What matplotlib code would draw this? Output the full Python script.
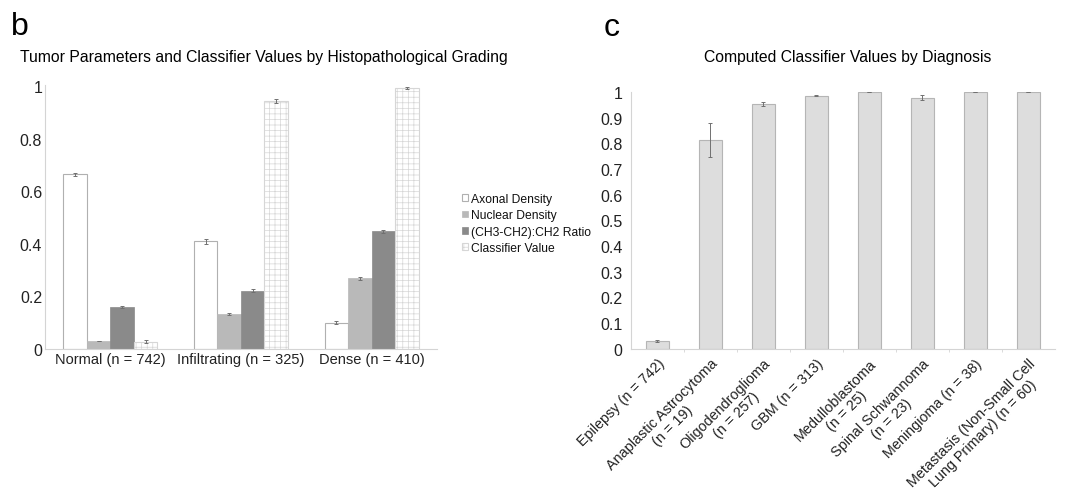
import numpy as np
import matplotlib
matplotlib.use("Agg")
import matplotlib.pyplot as plt

plt.rcParams['font.family'] = ['Liberation Sans', 'DejaVu Sans']
plt.rcParams['hatch.linewidth'] = 0.5

# panel b data
grades = ['Normal (n = 742)', 'Infiltrating (n = 325)', 'Dense (n = 410)']
series_names = ['Axonal Density', 'Nuclear Density', '(CH3-CH2):CH2 Ratio', 'Classifier Value']
axonal = [0.665, 0.41, 0.10]
axonal_err = [0.006, 0.010, 0.006]
nuclear = [0.030, 0.133, 0.268]
nuclear_err = [0.001, 0.003, 0.007]
ratio = [0.160, 0.222, 0.448]
ratio_err = [0.003, 0.005, 0.006]
classifier = [0.028, 0.945, 0.993]
classifier_err = [0.004, 0.008, 0.002]

# panel c data
diagnoses = ['Epilepsy (n = 742)', 'Anaplastic Astrocytoma\n(n = 19)',
             'Oligodendroglioma\n(n = 257)', 'GBM (n = 313)',
             'Medulloblastoma\n(n = 25)', 'Spinal Schwannoma\n(n = 23)',
             'Meningioma (n = 38)', 'Metastasis (Non-Small Cell\nLung Primary) (n = 60)']
diag_vals = [0.030, 0.812, 0.952, 0.985, 0.999, 0.978, 0.999, 0.999]
diag_err = [0.003, 0.065, 0.008, 0.003, 0.001, 0.010, 0.001, 0.001]

fig = plt.figure(figsize=(10.84, 5.02), dpi=100)
spine_col = '#d4d4d4'
err_kw = dict(ecolor='#707070', elinewidth=0.7, capsize=1.5, capthick=0.7)

# ---- panel b
ax1 = fig.add_axes([0.0415, 0.303, 0.3615, 0.526])
x = np.arange(len(grades))
w = 0.18
styles = [
    dict(color='white', edgecolor='#b0b0b0', linewidth=0.8),
    dict(color='#b9b9b9', edgecolor='#b9b9b9', linewidth=0.5),
    dict(color='#8a8a8a', edgecolor='#8a8a8a', linewidth=0.5),
    dict(facecolor='white', edgecolor='#d6d6d6', linewidth=0.8, hatch='+++'),
]
vals = [axonal, nuclear, ratio, classifier]
errs = [axonal_err, nuclear_err, ratio_err, classifier_err]
handles = []
for i in range(4):
    b = ax1.bar(x + (i - 1.5) * w, vals[i], w, yerr=errs[i], error_kw=err_kw,
                label=series_names[i], **styles[i])
    handles.append(b)
ax1.set_xlim(-0.5, 2.5)
ax1.set_ylim(0, 1.005)
ax1.set_yticks(np.arange(0, 1.01, 0.2))
ax1.set_yticklabels(['0', '0.2', '0.4', '0.6', '0.8', '1'])
ax1.set_xticks(x)
ax1.set_xticklabels(grades, fontsize=10.5)
ax1.tick_params(axis='x', length=0, colors='#222222', pad=2)
ax1.tick_params(axis='y', length=0, labelsize=11.5, colors='#222222', pad=2)
for s in ['top', 'right']:
    ax1.spines[s].set_visible(False)
for s in ['left', 'bottom']:
    ax1.spines[s].set_color(spine_col)
fig.text(0.018, 0.977, 'b', fontsize=23, va='top', ha='center')
fig.text(0.018, 0.886, 'Tumor Parameters and Classifier Values by Histopathological Grading',
         fontsize=11.3, va='center', ha='left')

leg = fig.legend(handles=handles, loc='center left', bbox_to_anchor=(0.421, 0.553),
                 frameon=False, handlelength=0.5, handleheight=0.5, handletextpad=0.2,
                 labelspacing=0.35, borderpad=0,
                 prop=dict(family='Liberation Sans', size=8.7))
for t in leg.get_texts():
    t.set_color('#111111')

# ---- panel c
ax2 = fig.add_axes([0.582, 0.303, 0.391, 0.512])
xc = np.arange(len(diagnoses))
ax2.bar(xc, diag_vals, 0.43, yerr=diag_err, color='#dddddd', edgecolor='#b5b5b5',
        linewidth=0.8, error_kw=err_kw)
ax2.set_xlim(-0.5, len(diagnoses) - 0.5)
ax2.set_ylim(0, 1.0)
ax2.set_yticks(np.arange(0, 1.01, 0.1))
ax2.set_yticklabels(['%g' % round(v, 1) for v in np.arange(0, 1.01, 0.1)])
ax2.set_xticks(xc)
ax2.set_xticklabels(diagnoses, rotation=45, ha='right', rotation_mode='anchor',
                    multialignment='center', linespacing=1.15, fontsize=10.4)
ax2.set_xticks(np.arange(0.5, len(diagnoses) - 0.5, 1), minor=True)
ax2.tick_params(axis='x', which='minor', length=2, color=spine_col)
ax2.tick_params(axis='x', which='major', length=0, pad=5, colors='#222222')
ax2.tick_params(axis='y', length=0, labelsize=11.5, pad=6, colors='#222222')
for s in ['top', 'right']:
    ax2.spines[s].set_visible(False)
for s in ['left', 'bottom']:
    ax2.spines[s].set_color(spine_col)
fig.text(0.564, 0.975, 'c', fontsize=23, va='top', ha='center')
fig.text(0.782, 0.886, 'Computed Classifier Values by Diagnosis',
         fontsize=11.3, va='center', ha='center')

fig.savefig('out.png', dpi=100, facecolor='white')
